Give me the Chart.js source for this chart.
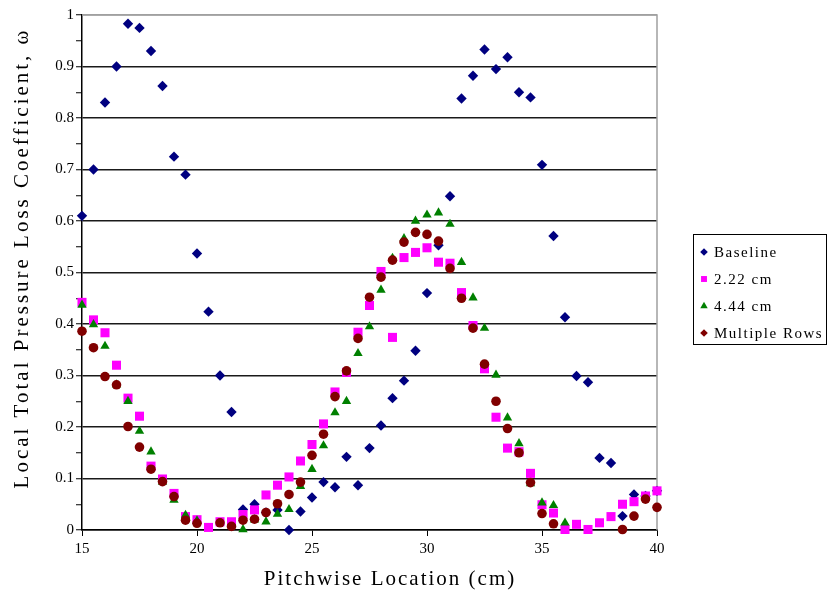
<!DOCTYPE html>
<html>
<head>
<meta charset="utf-8">
<script src="https://cdn.jsdelivr.net/npm/chart.js@4.4.0/dist/chart.umd.min.js"></script>
<style>
    html, body { margin: 0; padding: 0; background: #ffffff; }
    #wrap { width: 835px; height: 606px; }
</style>
</head>
<body>
<div id="wrap"><canvas id="lossChart" width="835" height="606"></canvas></div>
<script>
// Pitchwise positions (cm), one reading every 0.5 cm
const positions = [
    15, 15.5, 16, 16.5, 17, 17.5, 18, 18.5, 19, 19.5,
    20, 20.5, 21, 21.5, 22, 22.5, 23, 23.5, 24, 24.5,
    25, 25.5, 26, 26.5, 27, 27.5, 28, 28.5, 29, 29.5,
    30, 30.5, 31, 31.5, 32, 32.5, 33, 33.5, 34, 34.5,
    35, 35.5, 36, 36.5, 37, 37.5, 38, 38.5, 39, 39.5, 40
];

const baseline = [
    0.61, 0.70, 0.83, 0.90, 0.983, 0.975, 0.93, 0.862, 0.725, 0.69,
    0.537, 0.424, 0.30, 0.229, 0.04, 0.05, 0.034, 0.039, 0.0, 0.036,
    0.063, 0.093, 0.083, 0.142, 0.087, 0.159, 0.203, 0.256, 0.29, 0.348,
    0.46, 0.553, 0.648, 0.838, 0.882, 0.933, 0.895, 0.918, 0.85, 0.84,
    0.709, 0.571, 0.413, 0.299, 0.287, 0.14, 0.13, 0.027, 0.069, 0.066, 0.076
];

const row222 = [
    0.442, 0.408, 0.383, 0.32, 0.256, 0.221, 0.124, 0.099, 0.071, 0.026,
    0.02, 0.005, 0.016, 0.016, 0.03, 0.039, 0.068, 0.087, 0.103, 0.134,
    0.166, 0.206, 0.268, 0.306, 0.384, 0.436, 0.502, 0.374, 0.529, 0.539,
    0.548, 0.52, 0.518, 0.461, 0.397, 0.313, 0.219, 0.159, 0.152, 0.11,
    0.049, 0.033, 0.001, 0.011, 0.001, 0.014, 0.026, 0.05, 0.055, 0.066, 0.076
];

const row444 = [
    0.437, 0.399, 0.357, 0.282, 0.25, 0.192, 0.152, 0.093, 0.058, 0.029,
    0.018, null, null, null, 0.001, 0.02, 0.016, 0.031, 0.04, 0.085,
    0.118, 0.164, 0.228, 0.25, 0.343, 0.395, 0.466, 0.528, 0.566, 0.6,
    0.612, 0.616, 0.594, 0.52, 0.451, 0.392, 0.301, 0.218, 0.168, 0.09,
    0.053, 0.048, 0.014, null, null, null, null, null, null, null, null
];

const multipleRows = [
    0.386, 0.354, 0.298, 0.282, 0.201, 0.161, 0.118, 0.094, 0.065, 0.019,
    0.013, null, 0.014, 0.007, 0.019, 0.021, 0.034, 0.051, 0.069, 0.093,
    0.145, 0.186, 0.259, 0.309, 0.372, 0.452, 0.491, 0.524, 0.559, 0.578,
    0.574, 0.561, 0.508, 0.45, 0.392, 0.322, 0.25, 0.197, 0.15, 0.092,
    0.032, 0.012, null, null, null, null, null, 0.001, 0.027, 0.06, 0.044
];

const seriesNames = ['Baseline', '2.22 cm', '4.44 cm', 'Multiple Rows'];
const seriesColors = ['#000080', '#ff00ff', '#008000', '#800000'];

const FONT = 'Liberation Serif, Times New Roman, serif';

const toPoints = (vals) => positions.map((x, i) => ({ x: x, y: vals[i] }));

// Axis titles drawn by hand so the wide letter spacing of the original can be kept
const axisTitles = {
    id: 'axisTitles',
    afterDraw(chart) {
        const ctx = chart.ctx;
        ctx.save();
        ctx.fillStyle = '#000';
        ctx.font = '21px ' + FONT;
        ctx.textAlign = 'center';
        ctx.textBaseline = 'middle';
        ctx.letterSpacing = '2px';
        ctx.fillText('Pitchwise Location (cm)', 390, 579);
        ctx.translate(22, 258);
        ctx.rotate(-Math.PI / 2);
        ctx.letterSpacing = '3px';
        ctx.fillText('Local Total Pressure Loss Coefficient, \u03c9', 0, 0);
        ctx.restore();
    }
};

// Gray frame on the top and right of the plot area
const plotFrame = {
    id: 'plotFrame',
    beforeDatasetsDraw(chart) {
        const { ctx, chartArea } = chart;
        ctx.save();
        ctx.strokeStyle = '#a0a0a0';
        ctx.lineWidth = 1.5;
        ctx.beginPath();
        ctx.moveTo(chartArea.left, chartArea.top);
        ctx.lineTo(chartArea.right, chartArea.top);
        ctx.lineTo(chartArea.right, chartArea.bottom);
        ctx.stroke();
        ctx.restore();
    }
};

// Boxed legend on the right, in the old spreadsheet style
const boxLegend = {
    id: 'boxLegend',
    afterDraw(chart) {
        const ctx = chart.ctx;
        const shapes = [
            { pointStyle: 'rectRot', radius: 3.8 },
            { pointStyle: 'rect', radius: 4.2 },
            { pointStyle: 'triangle', radius: 4.3 },
            { pointStyle: 'rectRot', radius: 3.8 }
        ];
        ctx.save();
        ctx.fillStyle = '#fff';
        ctx.fillRect(693, 234, 134, 110);
        ctx.strokeStyle = '#000';
        ctx.lineWidth = 1;
        ctx.strokeRect(693.5, 234.5, 133, 110);
        ctx.font = '15px ' + FONT;
        ctx.textBaseline = 'middle';
        ctx.textAlign = 'left';
        ctx.letterSpacing = '1.5px';
        chart.data.datasets.forEach((ds, i) => {
            const y = 252 + i * 27;
            ctx.fillStyle = ds.pointBackgroundColor;
            Chart.helpers.drawPoint(ctx, { pointStyle: shapes[i].pointStyle, radius: shapes[i].radius, rotation: 0, borderWidth: 0 }, 704, y);
            ctx.fillStyle = '#000';
            ctx.fillText(ds.label, 714, y + 1);
        });
        ctx.restore();
    }
};

new Chart(document.getElementById('lossChart').getContext('2d'), {
    type: 'scatter',
    data: {
        datasets: [
            {
                label: seriesNames[0],
                data: toPoints(baseline),
                pointStyle: 'rectRot',
                pointRadius: 5.2,
                pointBackgroundColor: seriesColors[0],
                pointBorderColor: seriesColors[0],
                pointBorderWidth: 0,
                clip: false,
                order: 4
            },
            {
                label: seriesNames[1],
                data: toPoints(row222),
                pointStyle: 'rect',
                pointRadius: 6.4,
                pointBackgroundColor: seriesColors[1],
                pointBorderColor: seriesColors[1],
                pointBorderWidth: 0,
                clip: false,
                order: 3
            },
            {
                label: seriesNames[2],
                data: toPoints(row444),
                pointStyle: 'triangle',
                pointRadius: 5.4,
                pointBackgroundColor: seriesColors[2],
                pointBorderColor: seriesColors[2],
                pointBorderWidth: 0,
                clip: false,
                order: 2
            },
            {
                label: seriesNames[3],
                data: toPoints(multipleRows),
                pointStyle: 'circle',
                pointRadius: 4.8,
                pointBackgroundColor: seriesColors[3],
                pointBorderColor: seriesColors[3],
                pointBorderWidth: 0,
                clip: false,
                order: 1
            }
        ]
    },
    options: {
        responsive: false,
        animation: false,
        devicePixelRatio: 1,
        layout: { padding: { left: 0, right: 178, top: 15, bottom: 0 } },
        plugins: {
            legend: { display: false },
            tooltip: { enabled: false }
        },
        scales: {
            x: {
                type: 'linear',
                min: 15,
                max: 40,
                ticks: {
                    stepSize: 5,
                    color: '#000',
                    font: { family: FONT, size: 15 },
                    padding: 4,
                    maxRotation: 0
                },
                grid: {
                    drawOnChartArea: false,
                    tickLength: 6,
                    tickColor: '#000'
                },
                border: { color: '#000', width: 1.5 },
                afterFit: (scale) => { scale.height = 76; }
            },
            y: {
                type: 'linear',
                min: 0,
                max: 1,
                ticks: {
                    stepSize: 0.05,
                    maxTicksLimit: 30,
                    autoSkip: false,
                    color: '#000',
                    font: { family: FONT, size: 15 },
                    padding: 2,
                    callback: (value) => {
                        const k = Math.round(value * 100);
                        return k % 10 === 0 ? String(k / 100) : '';
                    }
                },
                grid: {
                    color: (c) => {
                        const k = Math.round(c.tick.value * 100);
                        if (k === 100) return '#a0a0a0';
                        return k % 10 === 0 ? '#1a1a1a' : 'rgba(0,0,0,0)';
                    },
                    lineWidth: 1.5,
                    tickColor: '#000',
                    tickWidth: 1,
                    tickLength: 6
                },
                border: { color: '#000', width: 1.5 },
                afterFit: (scale) => { scale.width = 82; }
            }
        }
    },
    plugins: [plotFrame, axisTitles, boxLegend]
});
</script>
</body>
</html>
